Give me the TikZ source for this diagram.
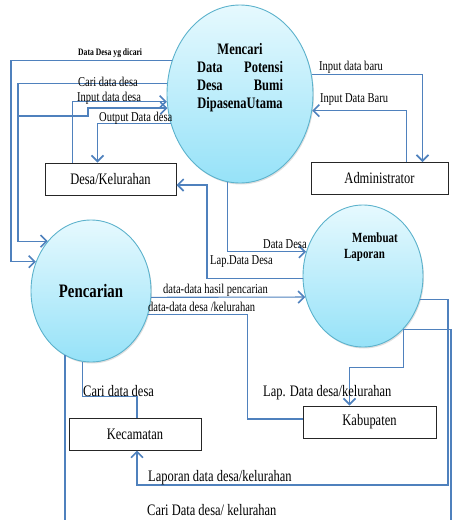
\documentclass[tikz,border=0pt]{standalone}
\usepackage{fontspec}
\setmainfont[FakeStretch=0.78]{Liberation Serif}
\usepackage{xcolor}
\usepackage{tikz}
\usetikzlibrary{shapes,arrows.meta,positioning,shadows}
\definecolor{flowblue}{RGB}{79,129,189}
\definecolor{procedge}{RGB}{92,178,204}
\definecolor{proctop}{RGB}{230,249,254}
\definecolor{procbot}{RGB}{150,226,248}

\begin{document}
\begin{tikzpicture}[
    x=1pt, y=-1pt,
    proc/.style={ellipse, draw=procedge, line width=0.9pt, top color=proctop, bottom color=procbot, inner sep=0pt, drop shadow={opacity=0.25, shadow xshift=1pt, shadow yshift=-1.5pt}},
    ent/.style={rectangle, draw=black!85, line width=1pt, fill=white, minimum height=32pt, font=\fontsize{16}{18}\selectfont},
    flow/.style={draw=flowblue, line width=1.1pt},
    arr/.style={-{Straight Barb[length=6pt,width=12pt,line width=1.6pt]}},
    lbl/.style={anchor=base west, inner sep=0pt, font=\fontsize{13.5}{15}\selectfont},
    biglbl/.style={anchor=base west, inner sep=0pt, font=\fontsize{16}{18}\selectfont}
]
\clip (0,0) rectangle (452,520);

\node[proc, minimum width=146pt, minimum height=178pt] (mencari) at (240,94) {};
\node[font=\bfseries\fontsize{16}{18}\selectfont, align=center, text width=86pt, inner sep=0pt] (mencaritxt) at (240,78) {Mencari\\ Data\hfill Potensi\\ Desa\hfill Bumi\\ DipasenaUtama};
\node[proc, minimum width=120pt, minimum height=142pt, font=\bfseries\fontsize{19}{21}\selectfont] (pencarian) at (91,291) {Pencarian};
\node[proc, minimum width=120pt, minimum height=142pt] (laporan) at (363,276) {};
\node[font=\bfseries\fontsize{14}{16}\selectfont, align=left, inner sep=0pt, anchor=north west] (laporantxt) at (344,233) {\hspace*{8pt}Membuat\\Laporan};

\node[ent, minimum width=131pt] (desa) at (110.5,179) {Desa/Kelurahan};
\node[ent, minimum width=137pt] (admin) at (379.5,178.5) {Administrator};
\node[ent, minimum width=132pt] (kecamatan) at (135,434) {Kecamatan};
\node[ent, minimum width=133pt] (kabupaten) at (369.5,422) {Kabupaten};

\coordinate (railA) at (11,0);
\coordinate (railB) at (18,0);
\coordinate (railC) at (207,0);
\coordinate (railE) at (448,485);
\coordinate (railF) at (451,530);
\coordinate (inStart) at (18,116);
\coordinate (desain) at ([yshift=-6pt]desa.east);
\coordinate (kabin) at ([yshift=3pt]kabupaten.west);

\draw[flow, arr] (mencari.154) -| (railA |- pencarian.152) -- (pencarian.152);
\draw[flow, arr] (mencari.172) -| (railB |- pencarian.131) -- (pencarian.131);
\draw[flow, arr] ([xshift=28pt]desa.north west) |- (mencari.186);
\draw[flow, arr, line width=1.8pt] (inStart) -- ++(70,0) |- (mencari.191);
\draw[flow, arr] (mencari.203) -| ([xshift=53pt]desa.north west);
\draw[flow, arr] (mencari.15) -| ([xshift=112pt]admin.north west);
\draw[flow, arr] ([xshift=96pt]admin.north west) |- (mencari.347);
\draw[flow, arr] (mencari.262) |- (laporan.157);
\draw[flow, arr] (laporan.182) -| (railC |- desain) -- (desain);
\draw[flow, arr] (pencarian.-6) -- (laporan.200);
\draw[flow] (pencarian.-22) -| ([xshift=-55pt]kabin) -- (kabin);
\draw[flow, arr] (laporan.-22) -| (railE) -| ([xshift=2pt]kecamatan.south);
\draw[flow, arr] (laporan.-53) -- ++(0,38) -| ([xshift=-20pt]kabupaten.north);
\draw[flow] (laporan.-53) -| (railF) -| (pencarian.248);
\draw[flow] ([xshift=2pt]kecamatan.north) -- ++(0,-21) -| (pencarian.263);

\node[lbl, font=\bfseries\fontsize{9.8}{11}\selectfont] (lbdicari) at (78,55) {Data Desa yg dicari};
\node[lbl] (lbcari) at (78,86) {Cari data desa};
\node[lbl] (lbinput) at (77,101) {Input data desa};
\node[lbl] (lboutput) at (99,121) {Output Data desa};
\node[lbl] (lbbaru) at (319,70) {Input data baru};
\node[lbl] (lbbarudua) at (320,102) {Input Data Baru};
\node[lbl] (lbdata) at (263,248) {Data Desa};
\node[lbl] (lblap) at (210,264) {Lap.Data Desa};
\node[lbl] (lbhasil) at (163,293) {data-data hasil pencarian};
\node[lbl] (lbdesa) at (148,311) {data-data desa /kelurahan};
\node[biglbl] (lbcarikec) at (83,396) {Cari data desa};
\node[biglbl] (lblapkab) at (263,396) {Lap. Data desa/kelurahan};
\node[biglbl] (lblapkec) at (148,481) {Laporan data desa/kelurahan};
\node[biglbl] (lbcaribawah) at (147,515) {Cari Data desa/ kelurahan};
\end{tikzpicture}
\end{document}
